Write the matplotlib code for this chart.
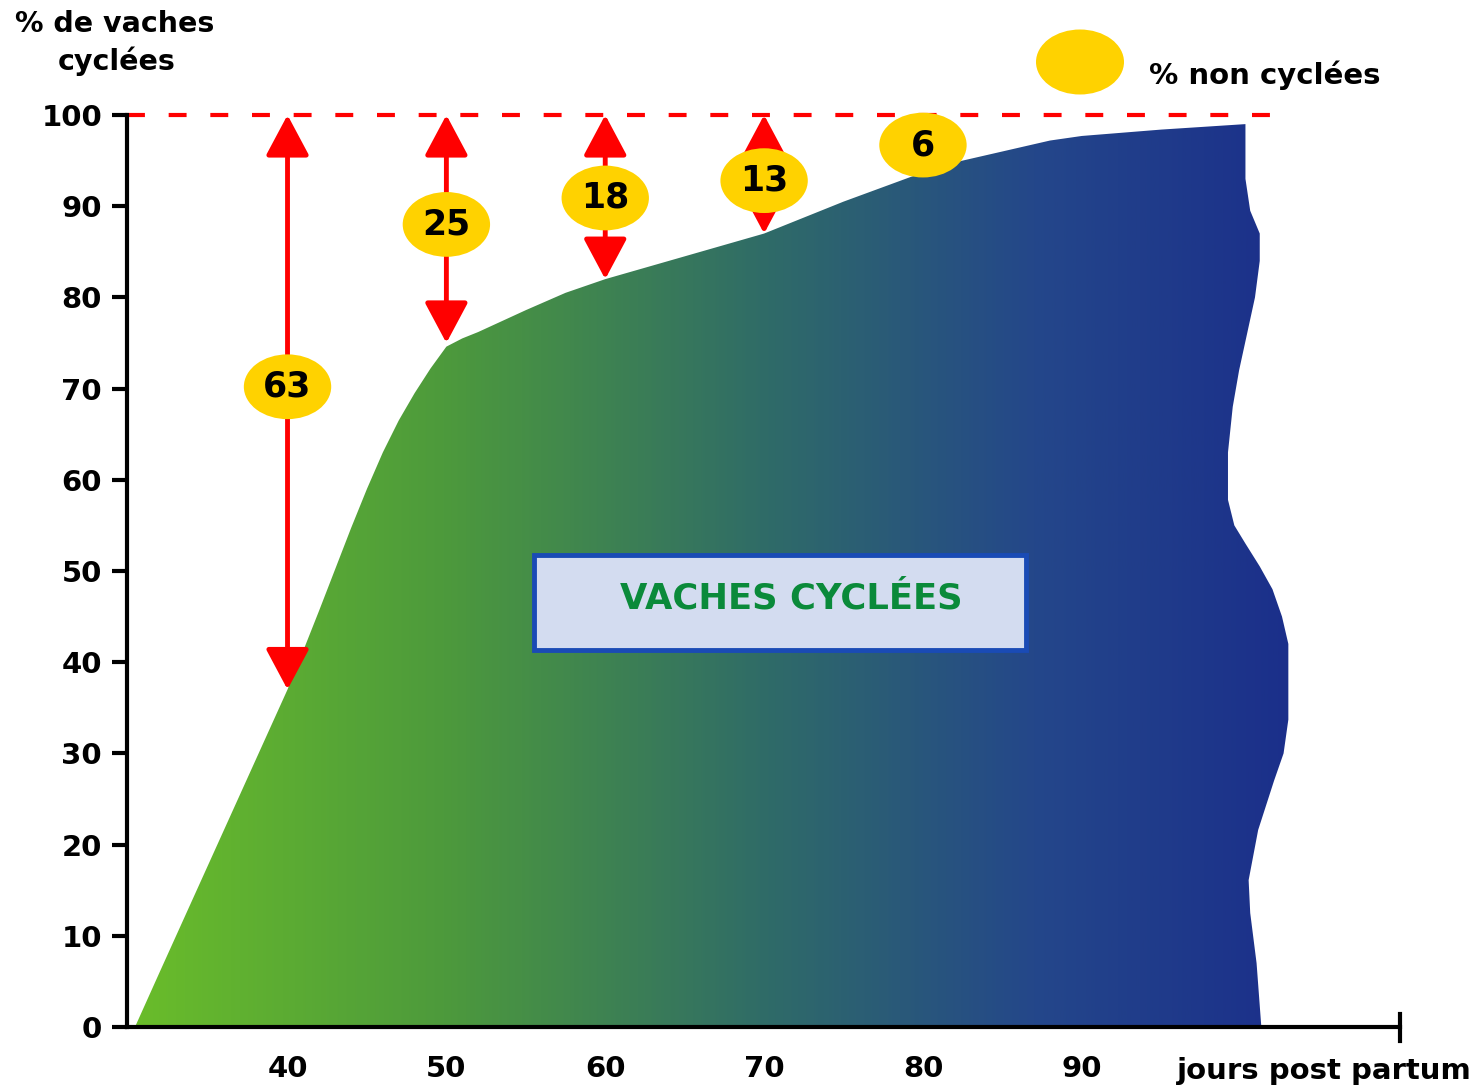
import numpy as np
import matplotlib
matplotlib.use("Agg")
import matplotlib.pyplot as plt
from matplotlib.colors import LinearSegmentedColormap
from matplotlib.patches import Polygon, Ellipse, FancyArrowPatch, Rectangle

# cumulative % of cycled cows vs days post partum (upper edge of the area)
days = [30.4, 32, 34, 36, 38, 40, 41, 42, 43, 44, 45, 46, 47, 48, 49, 50, 51, 52,
        55, 57.5, 60, 65, 70, 75, 80, 82, 85, 88, 90, 95, 100.3]
pct = [0, 6.2, 13.9, 21.6, 29.3, 37, 41.3, 45.7, 50.2, 54.7, 59, 63, 66.5, 69.5, 72.2,
       74.6, 75.5, 76.2, 78.6, 80.5, 82, 84.5, 87, 90.5, 93.7, 94.8, 96, 97.2, 97.7, 98.4, 99]

# wavy right-hand border of the area (day, %), top to bottom
edge_days = [100.3, 100.3, 100.6, 101.2, 101.2, 100.9, 100.4, 99.9, 99.5, 99.2, 99.2,
             99.6, 100.3, 101.2, 102.0, 102.6, 103.0, 103.0, 102.7, 102.1, 101.1,
             100.5, 100.6, 101.0, 101.3]
edge_pct = [99, 93, 89.5, 87, 84, 80, 76, 72, 68, 63, 57.8,
            55, 53, 50.5, 48, 45, 42, 33.7, 30, 27, 21.6,
            16.1, 12.5, 7, 0]

# % non cycled markers
mark_days = [40, 50, 60, 70, 80]
non_cycled = [63, 25, 18, 13, 6]
label_y = [70.2, 88.0, 90.9, 92.8, 96.7]

yticks = list(range(0, 101, 10))
xticks = [40, 50, 60, 70, 80, 90]

plt.rcParams['font.family'] = ['DejaVu Sans']
plt.rcParams['font.weight'] = 'bold'

fig = plt.figure(figsize=(14.81, 10.91), dpi=100)
ax = fig.add_axes([0.0858, 0.0587, 0.945 - 0.0858, 0.8946 - 0.0587])
ax.set_xlim(29.9, 110)
ax.set_ylim(0, 100)

# gradient filled area
verts = list(zip(days, pct)) + list(zip(edge_days, edge_pct))
poly = Polygon(verts, closed=True, facecolor='none', edgecolor='none')
ax.add_patch(poly)
cmap = LinearSegmentedColormap.from_list('gb', [
    (0.0, '#6abd2a'), (0.27, '#4d9a3c'), (0.55, '#2f6b68'),
    (0.78, '#24478a'), (1.0, '#1b2f8a')])
grad = np.linspace(0, 1, 400).reshape(1, -1)
im = ax.imshow(grad, cmap=cmap, extent=[30, 103.2, 0, 100], aspect='auto',
               origin='lower', zorder=1)
im.set_clip_path(poly)

# dashed 100% line
ax.plot([29.9, 102.7], [100, 100], color='#ff0000', lw=3, dashes=(4.3, 5.7),
        clip_on=False, zorder=3)

# arrows + yellow ovals
for d, v, ly in zip(mark_days, non_cycled, label_y):
    if v >= 10:
        arr = FancyArrowPatch((d, 100 - v), (d, 100),
                              arrowstyle='<|-|>,head_length=0.9,head_width=0.48',
                              mutation_scale=28, lw=3.5, color='#ff0000',
                              shrinkA=0, shrinkB=0, zorder=4, clip_on=False)
        ax.add_patch(arr)
    ax.add_patch(Ellipse((d, ly), 5.5, 7.1, facecolor='#ffd200', edgecolor='none',
                         zorder=5, clip_on=False))
    ax.text(d, ly, str(v), ha='center', va='center', fontsize=25,
            fontweight='bold', color='black', zorder=6)

# box label
ax.add_patch(Rectangle((55.5, 41.3), 31.0, 10.5, facecolor='#d3dcf0',
                       edgecolor='#1a4bb5', lw=3.5, zorder=5))
ax.text(71.7, 47.0, 'VACHES CYCLÉES', ha='center', va='center', fontsize=25.5,
        fontweight='bold', color='#0a8a3a', zorder=6)

# axes styling
for s in ['top', 'right']:
    ax.spines[s].set_visible(False)
ax.spines['left'].set_linewidth(3)
ax.spines['bottom'].set_linewidth(3)
ax.spines['left'].set_zorder(7)
ax.spines['bottom'].set_zorder(7)
ax.set_yticks(yticks)
ax.set_yticklabels([str(t) for t in yticks], fontsize=21, fontweight='bold')
ax.tick_params(axis='y', length=11, width=3, pad=7)
ax.set_xticks(xticks)
ax.set_xticklabels([str(t) for t in xticks], fontsize=21, fontweight='bold')
ax.tick_params(axis='x', length=0, pad=20)
ax.set_facecolor('white')

# end tick of x axis
ax.plot([110, 110], [-1.5, 1.4], color='black', lw=3, clip_on=False, zorder=7)

fig.text(0.010, 0.978, '% de vaches', fontsize=20.5, fontweight='bold', va='center')
fig.text(0.039, 0.944, 'cyclées', fontsize=20.5, fontweight='bold', va='center')
fig.text(0.795, 0.018, 'jours post partum', fontsize=21, fontweight='bold', va='center')

# legend oval
fig.patches.append(Ellipse((1080 / 1481, 1 - 62 / 1091), 88 / 1481, 65 / 1091,
                           transform=fig.transFigure, facecolor='#ffd200',
                           edgecolor='none'))
fig.text(0.776, 1 - 75 / 1091, '% non cyclées', fontsize=21, fontweight='bold', va='center')

fig.savefig('out.png', dpi=100)
